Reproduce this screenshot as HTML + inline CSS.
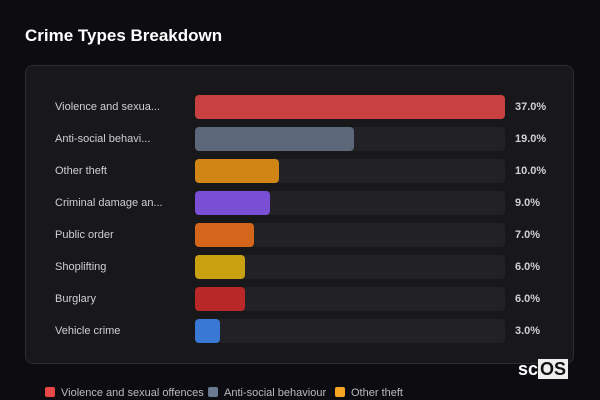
<!DOCTYPE html><html><head><style>
body{margin:0;width:600px;height:400px;background:#0d0c11;font-family:"Liberation Sans",sans-serif;position:relative;overflow:hidden}
.t{position:absolute;left:25px;top:26px;color:#fff;font-size:17px;font-weight:bold}
.card{position:absolute;left:25px;top:65px;width:549px;height:299px;background:#18181b;border:1px solid #2c2c31;border-radius:8px;box-sizing:border-box}
.row{position:absolute;left:0;width:600px;height:24px}
.lb{position:absolute;left:55px;top:6px;font-size:11px;color:#d0d0d4}
.tr{position:absolute;left:195px;top:0;width:310px;height:24px;background:#222226;border-radius:4px}
.b{position:absolute;left:195px;top:0;height:24px;border-radius:4px}
.v{position:absolute;left:515px;top:6px;font-size:11px;font-weight:bold;color:#d0d0d4}
.lg{position:absolute;top:387px;font-size:11px;color:#bbb}
.lg i{display:inline-block;width:10px;height:10px;border-radius:2px;vertical-align:-1px;margin-right:6px}
.logo{position:absolute;left:518px;top:360px;font-size:18px;font-weight:bold;color:#fff;line-height:18px}
.logo span{background:#eee;color:#111;padding:0 2px}
</style></head><body>
<div class="t">Crime Types Breakdown</div>
<div class="card"></div>
<div class="row" style="top:95px"><div class="lb">Violence and sexua...</div><div class="tr"></div><div class="b" style="width:310px;background:#c94040"></div><div class="v">37.0%</div></div>
<div class="row" style="top:127px"><div class="lb">Anti-social behavi...</div><div class="tr"></div><div class="b" style="width:159px;background:#5c687a"></div><div class="v">19.0%</div></div>
<div class="row" style="top:159px"><div class="lb">Other theft</div><div class="tr"></div><div class="b" style="width:84px;background:#cf8614"></div><div class="v">10.0%</div></div>
<div class="row" style="top:191px"><div class="lb">Criminal damage an...</div><div class="tr"></div><div class="b" style="width:75px;background:#7b4ed6"></div><div class="v">9.0%</div></div>
<div class="row" style="top:223px"><div class="lb">Public order</div><div class="tr"></div><div class="b" style="width:59px;background:#d4661c"></div><div class="v">7.0%</div></div>
<div class="row" style="top:255px"><div class="lb">Shoplifting</div><div class="tr"></div><div class="b" style="width:50px;background:#c9a010"></div><div class="v">6.0%</div></div>
<div class="row" style="top:287px"><div class="lb">Burglary</div><div class="tr"></div><div class="b" style="width:50px;background:#b82828"></div><div class="v">6.0%</div></div>
<div class="row" style="top:319px"><div class="lb">Vehicle crime</div><div class="tr"></div><div class="b" style="width:25px;background:#3a78d6"></div><div class="v">3.0%</div></div>
<div class="lg" style="left:45px"><i style="background:#e84848"></i>Violence and sexual offences</div>
<div class="lg" style="left:208px"><i style="background:#6a7890"></i>Anti-social behaviour</div>
<div class="lg" style="left:335px"><i style="background:#f5a623"></i>Other theft</div>
<div class="logo">sc<span>OS</span></div>
</body></html>
